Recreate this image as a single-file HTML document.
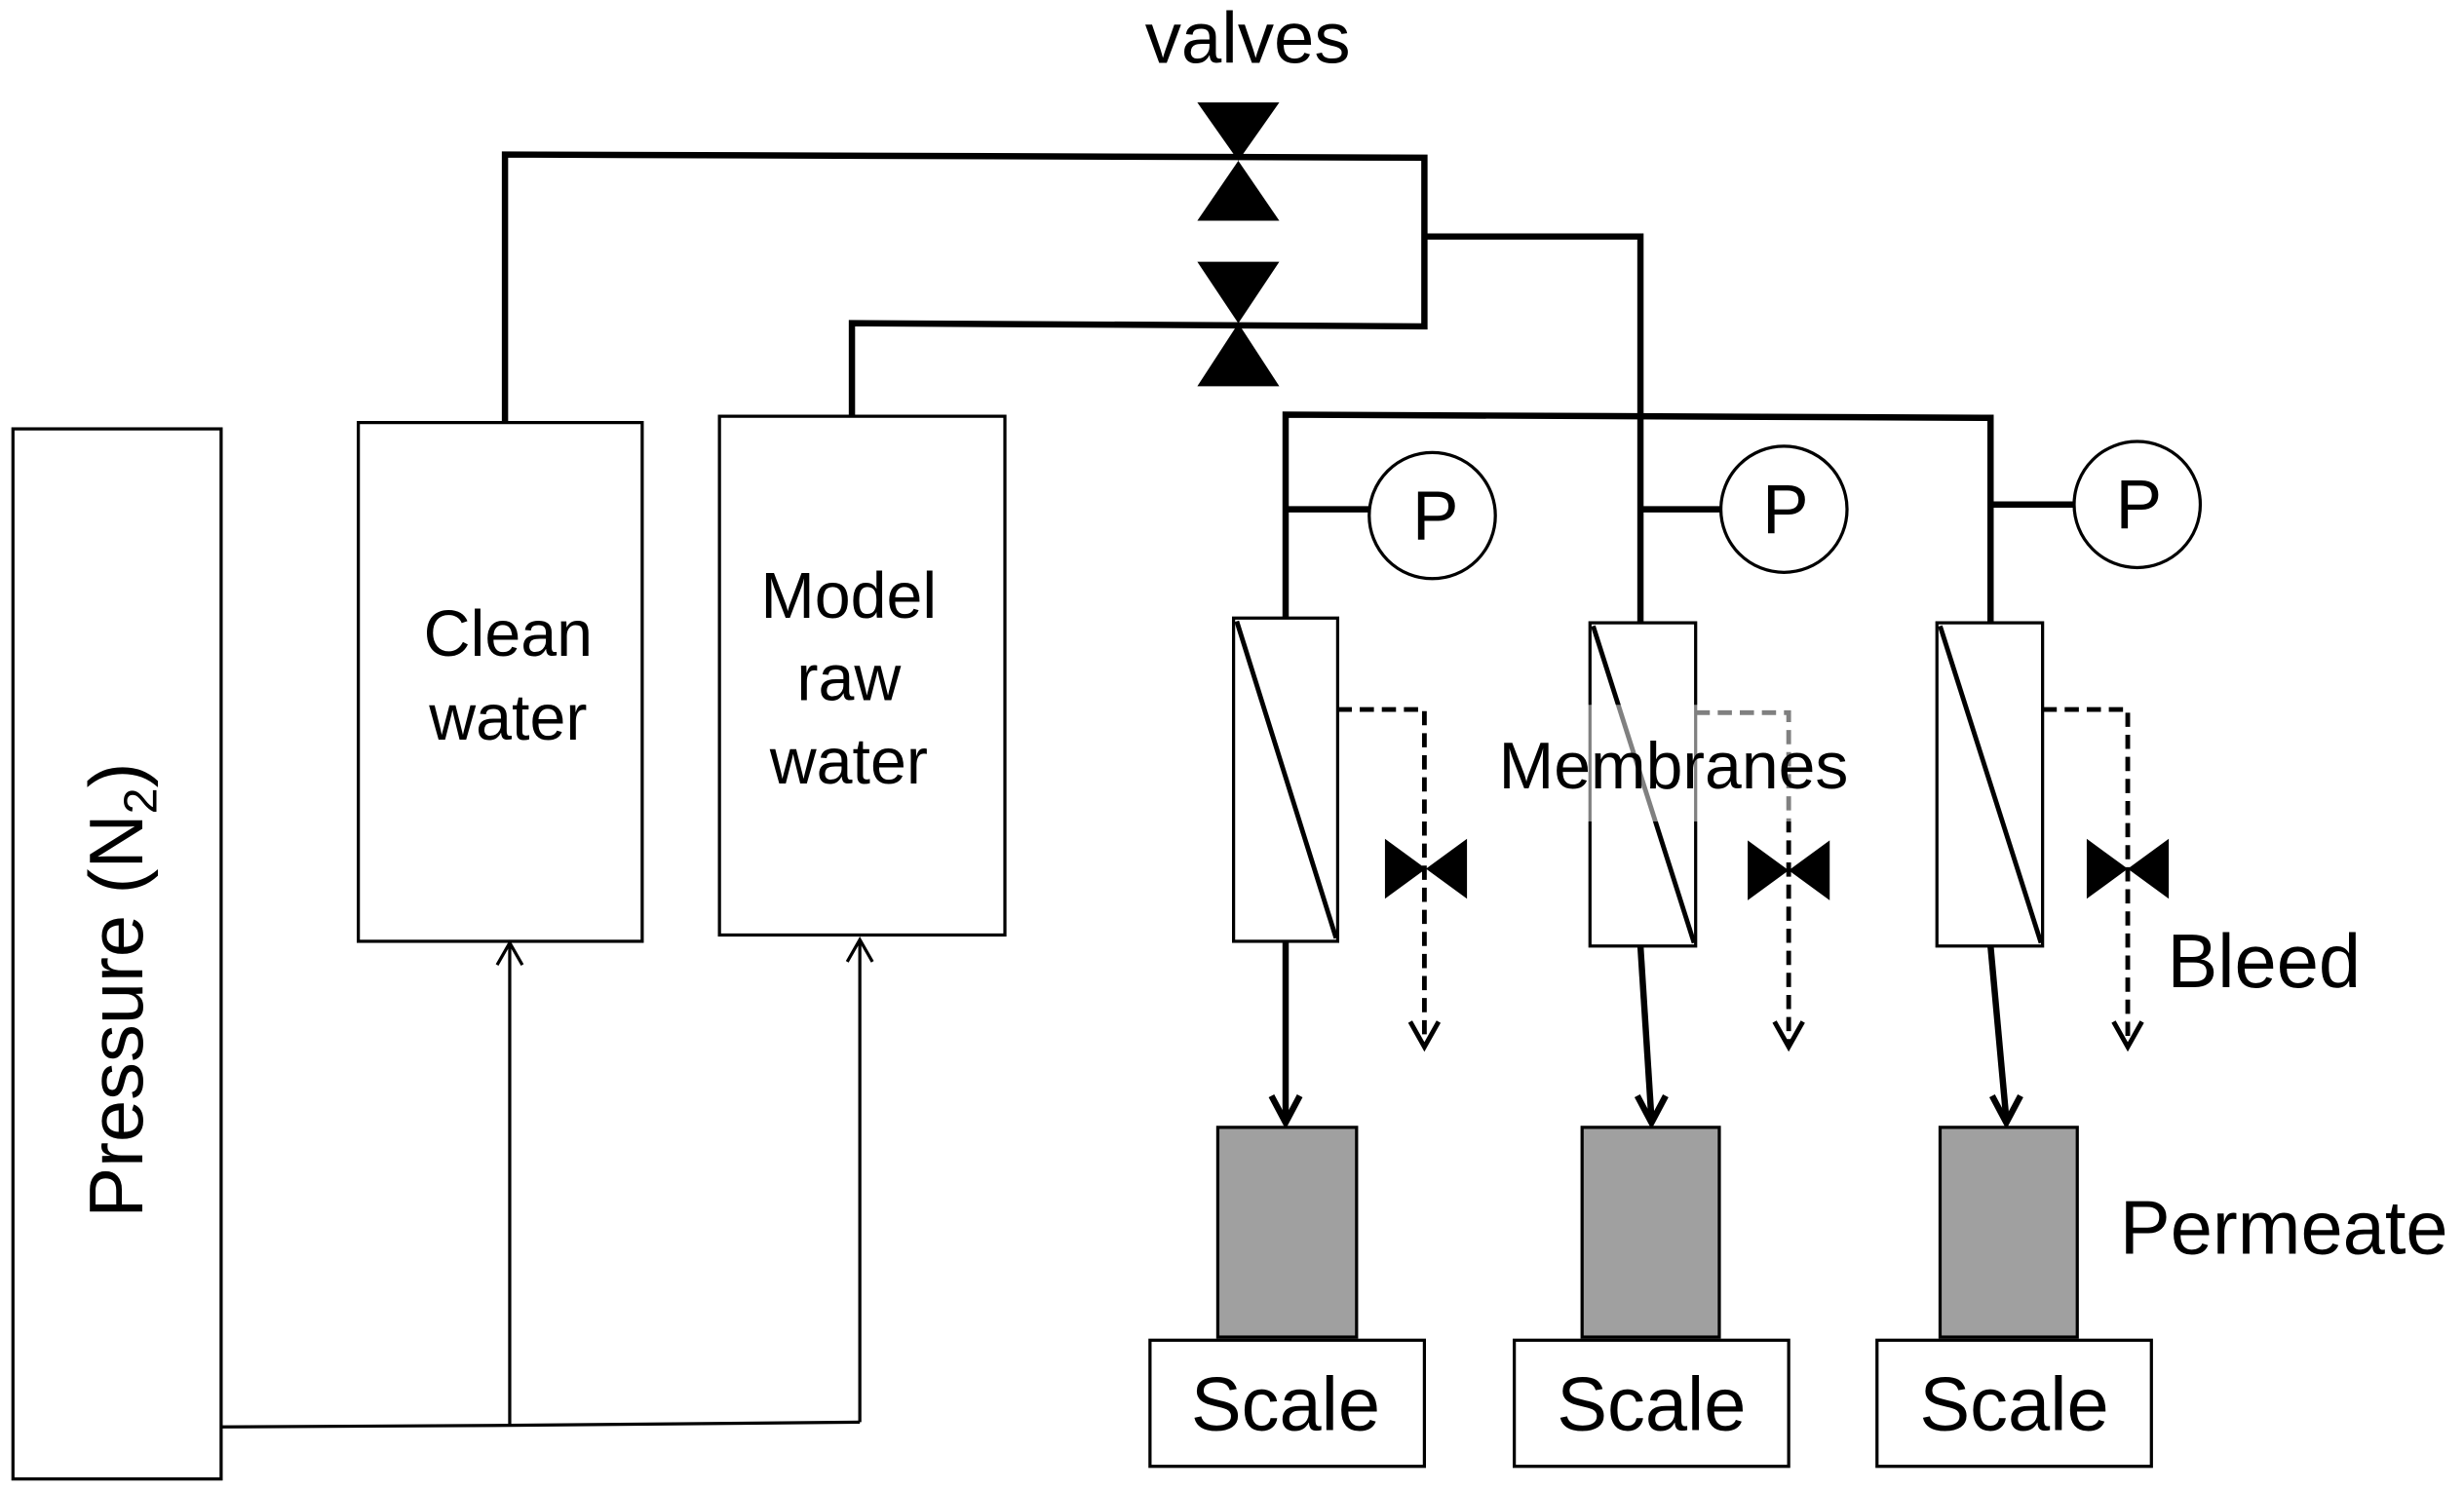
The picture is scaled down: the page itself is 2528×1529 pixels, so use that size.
<!DOCTYPE html>
<html><head><style>html,body{margin:0;padding:0;background:#fff}svg{display:block}</style></head>
<body>
<svg width="2528" height="1529" viewBox="0 0 1562 945" xmlns="http://www.w3.org/2000/svg" font-family="Liberation Sans, sans-serif">
<rect width="1562" height="945" fill="#fff"/>
<g fill="none" stroke="#000" stroke-width="2">
<rect x="8" y="272" width="132" height="666"/>
<rect x="227" y="268" width="180" height="329"/>
<rect x="456" y="264" width="181" height="329"/>
<polyline points="140,905 323,904 545,902"/>
<line x1="323" y1="904" x2="323" y2="598"/>
<line x1="545" y1="902" x2="545" y2="596"/>
<polyline points="315,612 323,598 331,612"/>
<polyline points="537,610 545,596 553,610"/>
</g>
<g fill="none" stroke="#000" stroke-width="4">
<polyline points="320,268 320,98 903,100 903,207 540,205 540,264"/>
<polyline points="903,150 1040,150 1040,395"/>
<polyline points="815,392 815,263 1262,265 1262,395"/>
<line x1="815" y1="323" x2="868" y2="323"/>
<line x1="1040" y1="323" x2="1091" y2="323"/>
<line x1="1262" y1="320" x2="1315" y2="320"/>
<line x1="815" y1="597" x2="815" y2="710"/>
<line x1="1040" y1="600" x2="1047" y2="710"/>
<line x1="1262" y1="600" x2="1272" y2="710"/>
<polyline points="806,695 815,712 824,695"/>
<polyline points="1038,695 1047,712 1056,695"/>
<polyline points="1263,695 1272,712 1281,695"/>
</g>
<g fill="#000">
<polygon points="759,65 811,65 785,102"/><polygon points="759,140 811,140 785,102"/>
<polygon points="759,166 811,166 785,205"/><polygon points="759,245 811,245 785,205"/>
<polygon points="878,532 878,570 904,551"/><polygon points="930,532 930,570 904,551"/>
<polygon points="1108,533 1108,571 1134,552"/><polygon points="1160,533 1160,571 1134,552"/>
<polygon points="1323,532 1323,570 1349,551"/><polygon points="1375,532 1375,570 1349,551"/>
</g>
<g fill="#fff" stroke="#000" stroke-width="2">
<circle cx="908" cy="327" r="40"/><circle cx="1131" cy="323" r="40"/><circle cx="1355" cy="320" r="40"/>
<rect x="782" y="392" width="66" height="205"/>
<rect x="1008" y="395" width="67" height="205"/>
<rect x="1228" y="395" width="67" height="205"/>
<rect x="729" y="850" width="174" height="80"/>
<rect x="960" y="850" width="174" height="80"/>
<rect x="1190" y="850" width="174" height="80"/>
</g>
<g stroke="#000" stroke-width="3" fill="none">
<line x1="784" y1="394" x2="847" y2="595"/>
<line x1="1010" y1="397" x2="1074" y2="598"/>
<line x1="1230" y1="397" x2="1294" y2="598"/>
</g>
<g stroke="#000" stroke-width="3" fill="none" stroke-dasharray="9,5">
<polyline points="848,450 903,450 903,662"/>
<polyline points="1075,452 1134,452 1134,662"/>
<polyline points="1295,450 1349,450 1349,662"/>
</g>
<g stroke="#000" stroke-width="3" fill="none">
<polyline points="894,648 903,664 912,648"/>
<polyline points="1125,648 1134,664 1143,648"/>
<polyline points="1340,648 1349,664 1358,648"/>
</g>
<g fill="#a0a0a0" stroke="#000" stroke-width="2">
<rect x="772" y="715" width="88" height="133"/>
<rect x="1003" y="715" width="87" height="133"/>
<rect x="1230" y="715" width="87" height="133"/>
</g>
<rect x="908" y="447" width="242" height="74" fill="#fff" opacity="0.5"/>
<g fill="#000" text-anchor="middle">
<text x="791" y="40" font-size="46">valves</text>
<text x="322" y="416" font-size="41">Clean</text>
<text x="322" y="469" font-size="41">water</text>
<text x="538" y="392" font-size="41">Model</text>
<text x="538" y="444" font-size="41">raw</text>
<text x="538" y="497" font-size="41">water</text>
<text x="1061" y="500" font-size="42">Membranes</text>
<text x="910" y="342" font-size="44">P</text>
<text x="1132" y="338" font-size="44">P</text>
<text x="1356" y="335" font-size="44">P</text>
<text x="815" y="907" font-size="48">Scale</text>
<text x="1047" y="907" font-size="48">Scale</text>
<text x="1277" y="907" font-size="48">Scale</text>
<text transform="translate(90,628) rotate(-90)" font-size="48">Pressure (N<tspan font-size="30" dy="9">2</tspan><tspan dy="-9">)</tspan></text>
</g>
<g fill="#000" font-size="48">
<text x="1374" y="626">Bleed</text>
<text x="1344" y="795">Permeate</text>
</g>
</svg>
</body></html>
